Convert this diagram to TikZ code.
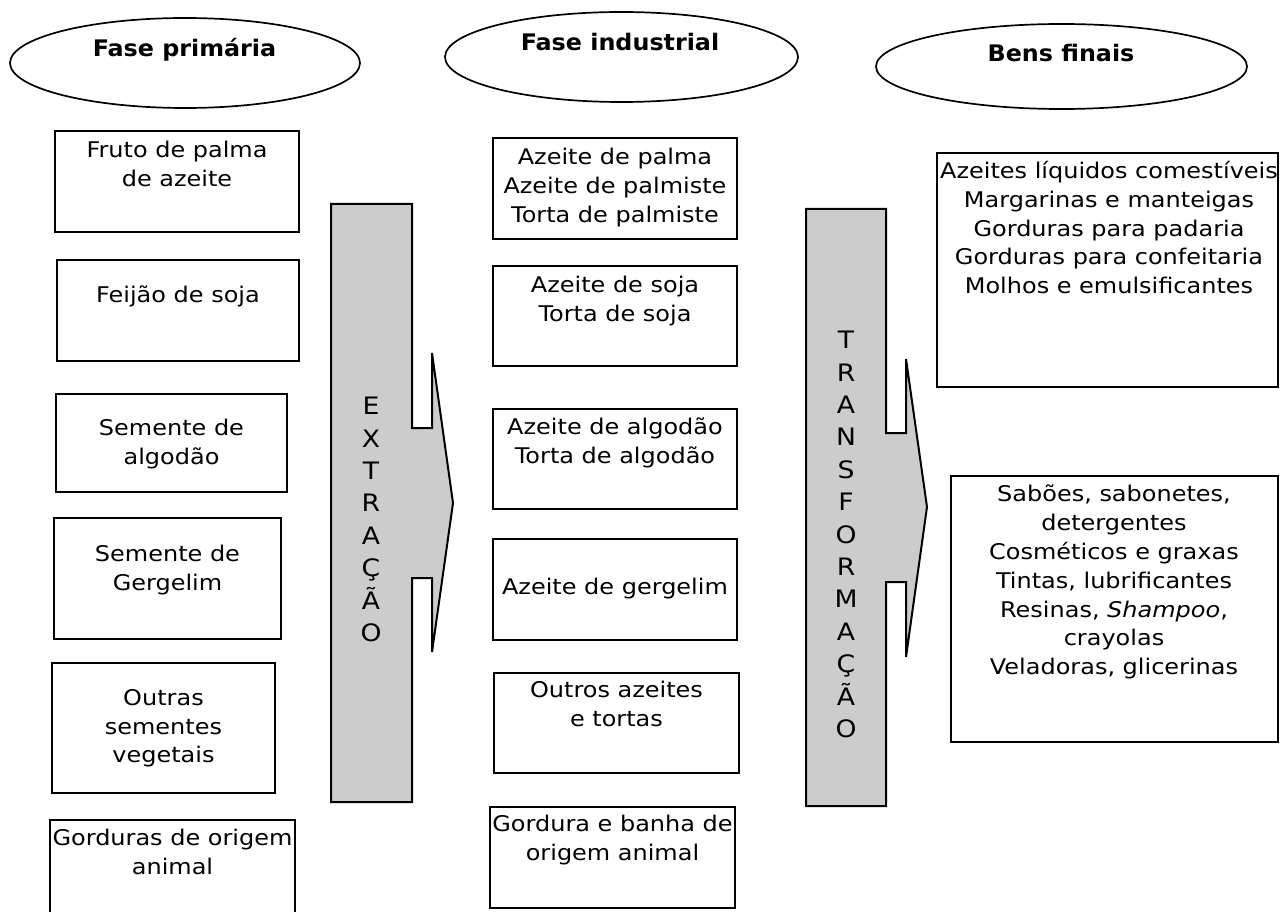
\documentclass[tikz,border=0pt]{standalone}
\usepackage{fontspec}
\setmainfont{DejaVu Sans}[FakeStretch=1.11]
\newfontfamily\headfont{DejaVu Sans}[FakeStretch=1.045]
\usetikzlibrary{shapes.geometric}
\tikzset{
  box/.style={draw, line width=1.3pt, inner sep=0pt},
  phase/.style={draw, ellipse, line width=1.7pt, inner sep=0pt},
  txt/.style={anchor=north, align=center, inner sep=0pt, font=\fontsize{21.6}{28.8}\selectfont},
  head/.style={anchor=base, inner sep=0pt, font=\headfont\fontsize{22.8}{27}\selectfont\bfseries},
  flow/.style={draw, line width=2pt, fill=gray!40},
  stem/.style={anchor=north, align=center, inner sep=0pt, font=\fontsize{24}{32.4}\selectfont}
}
\begin{document}
\begin{tikzpicture}[x=1pt, y=-1pt]
    \useasboundingbox (0,0) rectangle (1280,912);
    % phases
    \node[phase, minimum width=350pt, minimum height=90pt] (primaria) at (185,63) {};
    \node[head] (primaria-t) at (184.5,56.3) {Fase primária};
    \node[phase, minimum width=353pt, minimum height=90pt] (industrial) at (621.5,57) {};
    \node[head] (industrial-t) at (620,50.3) {Fase industrial};
    \node[phase, minimum width=371pt, minimum height=85pt] (finais) at (1061.5,66.5) {};
    \node[head] (finais-t) at (1061,61.3) {Bens finais};
    % fase primaria
    \node[box, minimum width=244pt, minimum height=101pt] (fruto) at (177,181.5) {};
    \node[txt] (fruto-t) at (177,141) {Fruto de palma\\de azeite};
    \node[box, minimum width=242pt, minimum height=101pt] (feijao) at (178,310.5) {};
    \node[txt] (feijao-t) at (178,286) {Feijão de soja};
    \node[box, minimum width=231pt, minimum height=98pt] (algodao) at (171.5,443) {};
    \node[txt] (algodao-t) at (171.5,419) {Semente de\\algodão};
    \node[box, minimum width=227pt, minimum height=121pt] (gergelim) at (167.5,578.5) {};
    \node[txt] (gergelim-t) at (167.5,545) {Semente de\\Gergelim};
    \node[box, minimum width=223pt, minimum height=130pt] (outras) at (163.5,728) {};
    \node[txt] (outras-t) at (163.5,689) {Outras\\sementes\\vegetais};
    \node[box, minimum width=245pt, minimum height=95pt] (animal) at (172.5,867.5) {};
    \node[txt] (animal-t) at (172.5,829) {Gorduras de origem\\animal};
    % extracao
    \draw[flow] (331,204) -- (412,204) -- (412,428) -- (432,428) -- (432,353) -- (453,503)
        -- (432,652) -- (432,578) -- (412,578) -- (412,802) -- (331,802) -- cycle;
    \node[stem] (extracao) at (371,397) {E\\X\\T\\R\\A\\Ç\\Ã\\O};
    % fase industrial
    \node[box, minimum width=244pt, minimum height=101pt] (palma) at (615,188.5) {};
    \node[txt] (palma-t) at (615,148) {Azeite de palma\\Azeite de palmiste\\Torta de palmiste};
    \node[box, minimum width=244pt, minimum height=100pt] (soja) at (615,316) {};
    \node[txt] (soja-t) at (615,276) {Azeite de soja\\Torta de soja};
    \node[box, minimum width=244pt, minimum height=100pt] (azalgodao) at (615,459) {};
    \node[txt] (azalgodao-t) at (615,418) {Azeite de algodão\\Torta de algodão};
    \node[box, minimum width=244pt, minimum height=101pt] (azgergelim) at (615,589.5) {};
    \node[txt] (azgergelim-t) at (615,578) {Azeite de gergelim};
    \node[box, minimum width=245pt, minimum height=100pt] (outros) at (616.5,723) {};
    \node[txt] (outros-t) at (616.5,681) {Outros azeites\\e tortas};
    \node[box, minimum width=245pt, minimum height=101pt] (banha) at (612.5,857.5) {};
    \node[txt] (banha-t) at (612.5,815) {Gordura e banha de\\origem animal};
    % transformacao
    \draw[flow] (806,209) -- (886,209) -- (886,433) -- (906,433) -- (906,359) -- (927,507)
        -- (906,657) -- (906,582) -- (886,582) -- (886,806) -- (806,806) -- cycle;
    \node[stem] (transformacao) at (846,331) {T\\R\\A\\N\\S\\F\\O\\R\\M\\A\\Ç\\Ã\\O};
    % bens finais
    \node[box, minimum width=341pt, minimum height=234pt] (comestiveis) at (1107.5,270) {};
    \node[txt] (comestiveis-t) at (1109,161) {Azeites líquidos comestíveis\\Margarinas e manteigas\\Gorduras para padaria\\Gorduras para confeitaria\\Molhos e emulsificantes};
    \node[box, minimum width=327pt, minimum height=266pt] (industriais) at (1114.5,609) {};
    \node[txt] (industriais-t) at (1114,485) {Sabões, sabonetes,\\detergentes\\Cosméticos e graxas\\Tintas, lubrificantes\\Resinas, \textit{Shampoo},\\crayolas\\Veladoras, glicerinas};
\end{tikzpicture}
\end{document}
